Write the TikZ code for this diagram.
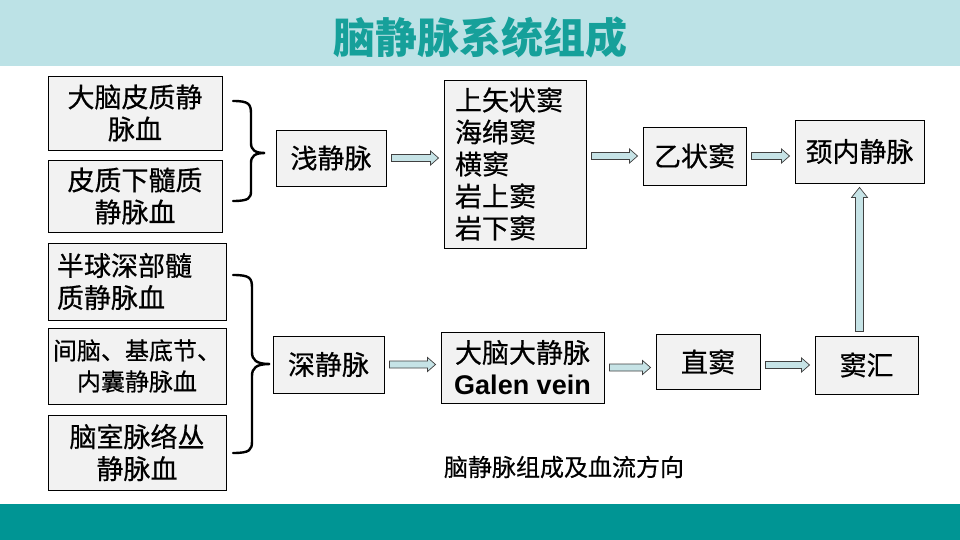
\documentclass[tikz,border=0pt]{standalone}
\usepackage{fontspec}
\setmainfont{Noto Sans CJK SC}[UprightFeatures={FakeBold=0.5}]
\newfontfamily\galenfont{Liberation Sans}
\usetikzlibrary{calc}
\definecolor{veinTitleBand}{HTML}{BCE2E6}
\definecolor{veinTitleText}{HTML}{16A09A}
\definecolor{veinFootBand}{HTML}{009594}
\definecolor{veinBoxFill}{HTML}{F2F2F2}
\definecolor{veinArrowFill}{HTML}{C6E3E6}

\tikzset{
  veinbox/.style={draw=black,line width=.9pt,fill=veinBoxFill,inner sep=0pt,
    font=\fontsize{27}{32}\selectfont,align=center},
  flowarrow/.style={draw=black!75,line width=.7pt,fill=veinArrowFill},
  bracket/.style={line width=2.4pt,line cap=round}
}

\newcommand{\rightflow}[2]{%
  \path (#1) coordinate (fa) (#2 |- #1) coordinate (fb);
  \filldraw[flowarrow] ($(fa)+(5,-3.5)$) -- ($(fb)+(-13,-3.5)$) -- ($(fb)+(-13,-7)$)
    -- ($(fb)+(-5,0)$) -- ($(fb)+(-13,7)$) -- ($(fb)+(-13,3.5)$) -- ($(fa)+(5,3.5)$) -- cycle;}
\newcommand{\upflow}[2]{%
  \path (#2) coordinate (fb) (#2 |- #1) coordinate (fa);
  \filldraw[flowarrow] ($(fa)+(-4,-4)$) -- ($(fb)+(-4,14)$) -- ($(fb)+(-8,14)$)
    -- ($(fb)+(0,4)$) -- ($(fb)+(8,14)$) -- ($(fb)+(4,14)$) -- ($(fa)+(4,-4)$) -- cycle;}

\begin{document}
\begin{tikzpicture}[x=1pt,y=-1pt]
  \useasboundingbox (0,0) rectangle (960,540);
  \fill[veinTitleBand] (0,0) rectangle (960,66);
  \fill[veinFootBand] (0,504) rectangle (960,540);
  \node[text=veinTitleText,font=\fontsize{42}{42}\selectfont\bfseries] (title) at (480,38) {脑静脉系统组成};

  \node[veinbox,minimum width=174,minimum height=74] (ctx1) at (135,113) {大脑皮质静\\脉血};
  \node[veinbox,minimum width=174,minimum height=72] (ctx2) at (135,196) {皮质下髓质\\静脉血};
  \node[veinbox,text width=160,inner xsep=9,minimum height=77,align=left] (deep1) at (137,281.5) {半球深部髓\\质静脉血};
  \node[veinbox,minimum width=178,minimum height=76,font=\fontsize{24}{31}\selectfont] (deep2) at (137,366) {间脑、基底节、\\内囊静脉血};
  \node[veinbox,minimum width=178,minimum height=75] (deep3) at (137,452.5) {脑室脉络丛\\静脉血};

  \node[veinbox,minimum width=110,minimum height=56] (qian) at (331,158) {浅静脉};
  \node[veinbox,minimum width=111,minimum height=57] (shen) at (328.5,364.5) {深静脉};
  \node[veinbox,text width=120,inner xsep=11,minimum height=168,align=left] (sinus) at (515,164)
    {上矢状窦\\海绵窦\\横窦\\岩上窦\\岩下窦};
  \node[veinbox,minimum width=103,minimum height=58] (yizhuang) at (694.5,156) {乙状窦};
  \node[veinbox,minimum width=129,minimum height=63] (jingnei) at (859.5,151.5) {颈内静脉};
  \node[veinbox,minimum width=163,minimum height=71] (galen) at (522.5,367.5)
    {大脑大静脉\\{\galenfont\bfseries Galen vein}};
  \node[veinbox,minimum width=104,minimum height=55] (zhidou) at (708,362) {直窦};
  \node[veinbox,minimum width=103,minimum height=58] (douhui) at (866.5,365) {窦汇};
  \node[font=\fontsize{24}{28}\selectfont] (caption) at (564,467) {脑静脉组成及血流方向};

  \draw[bracket] (233,101) .. controls (249,101) and (251,104) .. (251,114) -- (251,143)
    .. controls (251,150) and (255,153) .. (265,153)
    .. controls (255,153) and (251,156) .. (251,163) -- (251,191)
    .. controls (251,198) and (249,201) .. (233,201);
  \draw[bracket] (233,275) .. controls (250,275) and (252,278) .. (252,288) -- (252,352)
    .. controls (252,360) and (256,364) .. (270,364)
    .. controls (256,364) and (252,368) .. (252,376) -- (252,441)
    .. controls (252,450) and (250,453) .. (233,453);

  \rightflow{qian.east}{sinus.west}
  \rightflow{sinus.east |- yizhuang.west}{yizhuang.west}
  \rightflow{yizhuang.east}{jingnei.west}
  \rightflow{shen.east}{galen.west}
  \rightflow{galen.east}{zhidou.west}
  \rightflow{zhidou.east |- douhui.west}{douhui.west}
  \upflow{douhui.north}{jingnei.south}
\end{tikzpicture}
\end{document}
